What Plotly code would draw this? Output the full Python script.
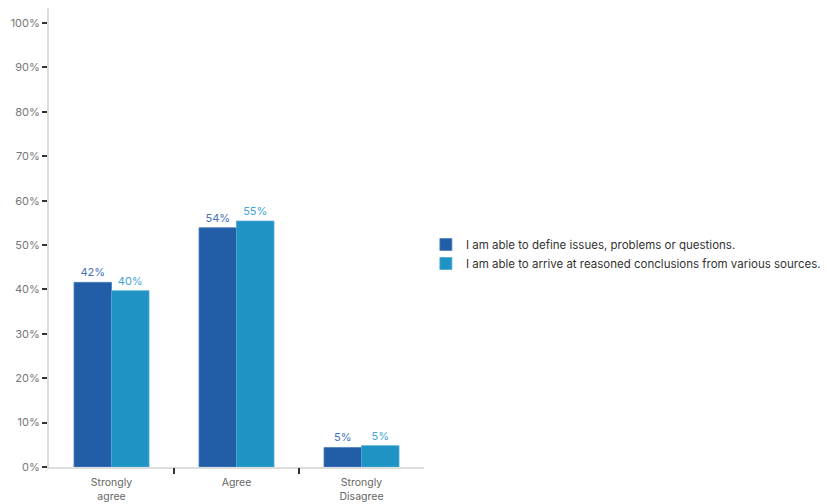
import plotly.graph_objects as go

categories = ["Strongly<br>agree", "Agree", "Strongly<br>Disagree"]
series_names = [
    "I am able to define issues, problems or questions.",
    "I am able to arrive at reasoned conclusions from various sources.",
]
define_vals = [41.6, 53.9, 4.4]
arrive_vals = [39.7, 55.4, 4.8]
define_labels = ["42%", "54%", "5%"]
arrive_labels = ["40%", "55%", "5%"]
boundary_ticks = [0.5, 1.5]

font = "Inter, Roboto, sans-serif"
fig = go.Figure()
fig.add_trace(go.Bar(
    x=categories, y=define_vals, name=series_names[0],
    marker=dict(color="#225ea8", line=dict(color="#4f7fc0", width=0.8)),
    text=define_labels, textposition="outside", cliponaxis=False,
    textfont=dict(color="#4472b8", size=11, family=font),
    hoverinfo="skip",
))
fig.add_trace(go.Bar(
    x=categories, y=arrive_vals, name=series_names[1],
    marker=dict(color="#1f93c3", line=dict(color="#4aabd6", width=0.8)),
    text=arrive_labels, textposition="outside", cliponaxis=False,
    textfont=dict(color="#3fa6d6", size=11, family=font),
    hoverinfo="skip",
))
# invisible helper trace to carry the boundary tick axis
fig.add_trace(go.Scatter(x=boundary_ticks, y=[0, 0], xaxis="x2", mode="markers",
                         marker=dict(opacity=0), showlegend=False, hoverinfo="skip"))
fig.update_layout(
    width=827, height=504,
    margin=dict(l=49, r=403, t=8, b=37, autoexpand=False),
    paper_bgcolor="white", plot_bgcolor="white",
    barmode="group", bargap=0.4, bargroupgap=0,
    font=dict(family=font, size=11, color="#666"),
    showlegend=True,
    legend=dict(x=1.005, y=0.464, xanchor="left", yanchor="middle",
                font=dict(size=11.5, color="#333", family=font),
                itemwidth=30, tracegroupgap=2),
    xaxis=dict(showline=True, linecolor="#ddd", linewidth=1.5,
               ticks="", ticklabelstandoff=5, automargin=False,
               tickfont=dict(size=10.5, color="#666"), showgrid=False),
    xaxis2=dict(overlaying="x", range=[-0.5, 2.5], tickvals=boundary_ticks,
                showticklabels=False, ticks="outside", ticklen=6,
                tickcolor="#333", tickwidth=1.5, showline=False,
                showgrid=False, zeroline=False, side="bottom",
                automargin=False),
    yaxis=dict(range=[0, 103.4], tickvals=list(range(0, 101, 10)),
               ticktext=[f"{v}%" for v in range(0, 101, 10)],
               showline=True, linecolor="#ddd", linewidth=2,
               ticks="outside", ticklen=5, tickcolor="#333", tickwidth=1.5,
               tickfont=dict(size=11, color="#777"), showgrid=False,
               zeroline=False, automargin=False),
)
fig.write_html("out.html")
